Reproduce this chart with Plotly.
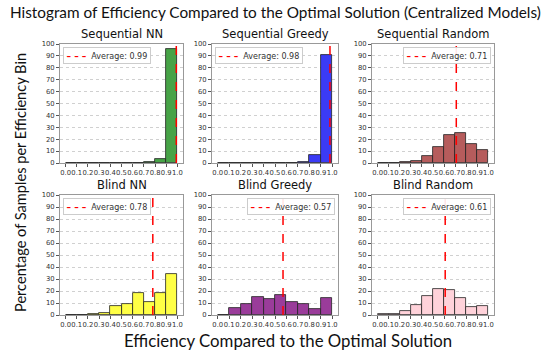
import plotly.graph_objects as go

# ---------------- data ----------------
bin_edges = [0.0, 0.1, 0.2, 0.3, 0.4, 0.5, 0.6, 0.7, 0.8, 0.9, 1.0]
tick_labels = ["0.0", "0.1", "0.2", "0.3", "0.4", "0.5", "0.6", "0.7", "0.8", "0.9", "1.0"]
y_ticks = [0, 10, 20, 30, 40, 50, 60, 70, 80, 90, 100]

model_names = ["Sequential NN", "Sequential Greedy", "Sequential Random",
               "Blind NN", "Blind Greedy", "Blind Random"]

seq_nn = [0, 0, 0, 0, 0, 0, 0, 0.5, 3.5, 96]
seq_greedy = [0, 0, 0, 0, 0, 0, 0.3, 1.2, 6.5, 91]
seq_random = [0.2, 0.3, 0.6, 1.8, 5.5, 13.3, 23.6, 25.5, 16, 11]
blind_nn = [0, 0, 0.5, 2, 7.8, 9.2, 18, 11, 18.3, 34]
blind_greedy = [0, 5.8, 9.2, 15, 13, 16.7, 11, 9.2, 5, 14.4]
blind_random = [0.5, 1.2, 3.3, 8, 15.8, 21.7, 20.8, 14.4, 6.7, 7.5]

averages = [0.99, 0.98, 0.71, 0.78, 0.57, 0.61]
bar_colors = ["#47a347", "#3b3bf5", "#b65c5c", "#ffff45", "#9a3c9a", "#ffd2da"]
legend_side = ["left", "left", "right", "left", "right", "right"]

series = [seq_nn, seq_greedy, seq_random, blind_nn, blind_greedy, blind_random]

# ---------------- layout geometry ----------------
W, H = 550, 358
col_px = [(60, 183), (212, 338), (372, 494)]
row_px = [(44, 163), (195, 315)]

centers = [(bin_edges[i] + bin_edges[i + 1]) / 2 for i in range(len(bin_edges) - 1)]
widths = [bin_edges[i + 1] - bin_edges[i] for i in range(len(bin_edges) - 1)]

fig = go.Figure()
layout_updates = {}
annotations = []
tick_font = dict(family="DejaVu Sans", size=6.8, color="#333333")

for k, (name, vals) in enumerate(zip(model_names, series)):
    r, c = divmod(k, 3)
    ax = "" if k == 0 else str(k + 1)
    xa, ya = "x" + ax, "y" + ax
    x0, x1 = col_px[c]
    y0, y1 = row_px[r]

    fig.add_trace(go.Bar(
        x=centers, y=vals, width=widths,
        marker=dict(color=bar_colors[k], line=dict(color="#222222", width=0.8)),
        xaxis=xa, yaxis=ya, showlegend=False, hoverinfo="x+y",
    ))
    fig.add_trace(go.Scatter(
        x=[averages[k], averages[k]], y=[0, 100], mode="lines",
        line=dict(color="red", dash="dash", width=1.5),
        name=f"Average: {averages[k]:.2f}",
        xaxis=xa, yaxis=ya, showlegend=False,
    ))

    layout_updates["xaxis" + ax] = dict(
        domain=[x0 / W, x1 / W], anchor=ya, range=[-0.05, 1.05],
        tickvals=bin_edges, ticktext=tick_labels, tickangle=0,
        tickfont=tick_font, ticks="outside", ticklen=3, tickcolor="#555555",
        showline=True, linecolor="#999999", linewidth=1, mirror=True,
        showgrid=False, zeroline=False,
    )
    layout_updates["yaxis" + ax] = dict(
        domain=[1 - y1 / H, 1 - y0 / H], anchor=xa, range=[0, 100],
        tickvals=y_ticks, tickfont=tick_font, ticks="outside", ticklen=3,
        tickcolor="#555555",
        showline=True, linecolor="#999999", linewidth=1, mirror=True,
        showgrid=True, gridcolor="#d0d0d0", griddash="dot", gridwidth=1,
        zeroline=False,
    )

    # subplot title
    annotations.append(dict(
        text=name, x=0.5, y=1, xref=xa + " domain", yref=ya + " domain",
        xanchor="center", yanchor="bottom", yshift=1,
        showarrow=False, font=dict(family="DejaVu Sans", size=11.5, color="#111111"),
    ))
    # legend box (key for the average line)
    left = legend_side[k] == "left"
    annotations.append(dict(
        text=f"<span style='color:red;font-size:9px'><b>– – –</b></span>  Average: {averages[k]:.2f}",
        x=0 if left else 1, y=1, xref=xa + " domain", yref=ya + " domain",
        xanchor="left" if left else "right", yanchor="top",
        xshift=3 if left else -3, yshift=-3,
        showarrow=False, align="left",
        bgcolor="rgba(255,255,255,0.9)", bordercolor="#cccccc", borderwidth=1, borderpad=2.5,
        font=dict(family="DejaVu Sans", size=8, color="#333333"),
    ))

annotations.append(dict(
    text="Histogram of Efficiency Compared to the Optimal Solution (Centralized Models)",
    x=0.5, y=1 - 12 / H, xref="paper", yref="paper", xanchor="center", yanchor="middle",
    showarrow=False, font=dict(family="Lato", size=15.3, color="#111111"),
))
annotations.append(dict(
    text="Efficiency Compared to the Optimal Solution",
    x=288 / W, y=1 - 340 / H, xref="paper", yref="paper", xanchor="center", yanchor="middle",
    showarrow=False, font=dict(family="Lato", size=16.8, color="#111111"),
))
annotations.append(dict(
    text="Percentage of Samples per Efficiency Bin",
    x=20 / W, y=1 - 183 / H, xref="paper", yref="paper", xanchor="center", yanchor="middle",
    textangle=-90, showarrow=False, font=dict(family="Lato", size=14.6, color="#111111"),
))

fig.update_layout(
    width=W, height=H, margin=dict(l=0, r=0, t=0, b=0, autoexpand=False),
    paper_bgcolor="white", plot_bgcolor="white", showlegend=False,
    bargap=0, annotations=annotations, **layout_updates,
)

fig.write_html(
    "out.html",
    config={"displayModeBar": False},
    post_script="document.body.style.margin='0';document.body.style.overflow='hidden';",
)
